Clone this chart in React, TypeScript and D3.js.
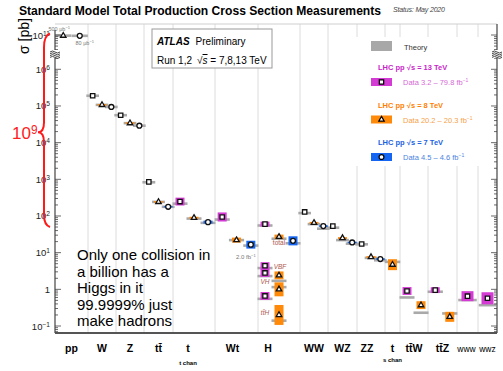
import * as d3 from "d3";

const W = 503;
const H = 371;
const L = 55;
const R = 497;
const T = 24;
const B = 333;

// categories along the x axis
const categories = ["pp", "W", "Z", "tt̄", "t", "Wt", "H", "WW", "WZ", "ZZ", "t", "tt̄W", "tt̄Z", "www", "wwz"];
const channelNotes = ["", "", "", "", "t chan", "", "", "", "", "", "s chan", "", "", "", ""];
// relative column widths (layout only)
const bandWeights = [33, 28, 28, 29, 42, 43, 42, 28, 29, 28, 15, 28, 29, 21, 19];
const labelShift = [0, 0, 0, 0, -6, -4, -11, 0, 0, -4, 0, 0, 0, -1, 0];

// [category, process, sigma (pb), relative uncertainty, theory (pb)]
const meas13: [number, string, number, number, number][] = [
  [1, "", 1.9e5, 0, 1.9e5],
  [2, "", 5.6e4, 0, 5.6e4],
  [3, "", 850, 0, 830],
  [4, "", 247, 0.28, 217],
  [5, "", 94, 0.33, 80],
  [6, "total", 60, 0.17, 55],
  [6, "VBF", 4.4, 0.25, 3.8],
  [6, "VH", 2.8, 0.28, 2.3],
  [6, "ttH", 0.66, 0.28, 0.55],
  [7, "", 129, 0, 120],
  [8, "", 53, 0, 48],
  [9, "", 17.2, 0, 16.9],
  [11, "", 0.9, 0.28, 0.6],
  [12, "", 0.95, 0.2, 0.86],
  [13, "", 0.65, 0.37, 0.51],
  [14, "", 0.57, 0.46, 0.37],
];

const meas8: [number, string, number, number, number][] = [
  [0, "", 9.6e10, 0, 9.6e10],
  [1, "", 1.07e5, 0.05, 1.07e5],
  [2, "", 3.4e4, 0.05, 3.4e4],
  [3, "", 242, 0.05, 242],
  [4, "", 89, 0.07, 85],
  [5, "", 22, 0.17, 22],
  [6, "total", 27, 0.15, 24],
  [6, "VBF", 2.4, 0.28, 1.7],
  [6, "VH", 1.0, 0.55, 1.15],
  [6, "ttH", 0.2, 0.87, 0.14],
  [7, "", 65, 0.06, 60],
  [8, "", 25, 0.06, 22],
  [9, "", 7.6, 0.06, 7.2],
  [10, "", 4.7, 0.41, 5.6],
  [11, "", 0.37, 0.28, 0.23],
  [12, "", 0.178, 0.37, 0.22],
];

const meas7: [number, string, number, number, number][] = [
  [0, "", 9.5e10, 0, 9.5e10],
  [1, "", 9.4e4, 0, 9.4e4],
  [2, "", 2.9e4, 0, 2.9e4],
  [3, "", 178, 0.04, 178],
  [4, "", 68, 0.1, 65],
  [5, "", 16.5, 0.28, 15.6],
  [6, "total", 21, 0.33, 18],
  [7, "", 53, 0.05, 45],
  [8, "", 19, 0.05, 17.6],
  [9, "", 6.7, 0.05, 6.2],
];

const legendLumi = ["3.2 – 79.8", "20.2 – 20.3", "4.5 – 4.6"];
const noteLines = ["Only one collision in", "a billion has a", "Higgs in it", "99.9999% just", "make hadrons"];

const font = "'Liberation Sans', Arial, Helvetica, sans-serif";

const series = [
  { e: 13, rows: meas13, fill: "#d43ad4", text: "#c81fc8", light: "#d66ad6", symbol: d3.symbolSquare, size: 19 },
  { e: 8, rows: meas8, fill: "#ff8a0a", text: "#ff8000", light: "#f5a24a", symbol: d3.symbolTriangle, size: 13 },
  { e: 7, rows: meas7, fill: "#1466f2", text: "#1a62e0", light: "#4a84e2", symbol: d3.symbolCircle, size: 19 },
];

function Pow({ base = "10", exp }: { base?: string; exp: string }) {
  return (
    <>
      {base}
      <tspan fontSize="0.7em" dy="-0.45em">{exp}</tspan>
    </>
  );
}

export default function App() {
  const xEdge = d3.scaleLinear().domain([0, d3.sum(bandWeights)]).range([L, R]);
  const cum = [0, ...Array.from(d3.cumsum(bandWeights))];
  const bandOf = (i: number) => [xEdge(cum[i]), xEdge(cum[i + 1])];

  const slots = categories.map((_, i) =>
    d3
      .scaleBand()
      .domain(series.filter((s) => s.rows.some((r) => r[0] === i)).map((s) => String(s.e)))
      .range(bandOf(i) as [number, number])
  );
  const xOf = (cat: number, e: number) => (slots[cat](String(e)) as number) + slots[cat].bandwidth() / 2;

  // broken log axis
  const yLow = d3.scaleLog().domain([0.1, 1e6]).range([326, 69.3]);
  const yHigh = d3.scaleLog().domain([1e10, 1e11]).range([71.7, 35]);
  const y = (v: number) => (v > 1e8 ? yHigh(v) : yLow(v));

  const isMajor = (v: number) => Math.abs(Math.log10(v) - Math.round(Math.log10(v))) < 1e-6;
  const lowTicks = yLow.copy().domain([yLow.invert(B - 1), yLow.invert(58)]).ticks();
  const highTicks = yHigh.copy().domain([yHigh.invert(50), yHigh.invert(T + 1)]).ticks();
  const allTicks = [...lowTicks.map((v) => ({ v, y: yLow(v) })), ...highTicks.map((v) => ({ v, y: yHigh(v) }))];
  const labelTicks = [0.1, 1, 10, 100, 1e3, 1e4, 1e5, 1e6, 1e11];

  // red brace
  const yTop = yHigh(1.1e11);
  const yBot = yLow(50);
  const yMid = (yTop + yBot) / 2 + 2;
  const brace = d3.path();
  brace.moveTo(50, yTop);
  brace.quadraticCurveTo(44, yTop + 2, 44, yTop + 14);
  brace.lineTo(44, yMid - 10);
  brace.quadraticCurveTo(44, yMid, 38, yMid);
  brace.quadraticCurveTo(44, yMid, 44, yMid + 10);
  brace.lineTo(44, yBot - 12);
  brace.quadraticCurveTo(44, yBot - 2, 50, yBot);

  const breakMarks = (x: number) =>
    [0, 1, 2, 3].map((k) => {
      const yy = 51 + k * 1.8;
      return (
        <path
          key={`${x}-${k}`}
          d={`M${x - 5},${yy + 1} q2.5,-2 5,0 t5,0`}
          fill="none"
          stroke="#333"
          strokeWidth={0.9}
        />
      );
    });

  const hLabelPos = (e: number, proc: string) => {
    const s = series.find((d) => d.e === e)!;
    const row = s.rows.find((r) => r[0] === 6 && r[1] === proc)!;
    return { x: xOf(6, e), y: y(row[2]) };
  };

  const legX = 371;

  return (
    <svg
      width={W}
      height={H}
      style={{ position: "fixed", left: 0, top: 0, background: "#fff", fontFamily: font }}
    >
      <rect width={W} height={H} fill="#fff" />

      {/* title */}
      <text x={19} y={15} fontSize={12} fontWeight="bold" textLength={362} lengthAdjust="spacingAndGlyphs">
        Standard Model Total Production Cross Section Measurements
      </text>
      <text x={393} y={12} fontSize={7} fontStyle="italic" fill="#444" textLength={52}>
        Status: May 2020
      </text>

      {/* grid */}
      {cum.slice(1, -1).map((c, i) => (
        <line key={i} x1={xEdge(c)} x2={xEdge(c)} y1={T} y2={B} stroke="#dcdcdc" strokeWidth={1} />
      ))}
      <line x1={L} x2={R} y1={T} y2={T} stroke="#cfcfcf" />

      {/* ATLAS box */}
      <rect x={152} y={29} width={120} height={39} fill="#fff" stroke="#999" />
      <text x={157} y={45} fontSize={10}>
        <tspan fontWeight="bold" fontStyle="italic">ATLAS</tspan>
        <tspan dx={6}>Preliminary</tspan>
      </text>
      <text x={157} y={64} fontSize={10}>
        Run 1,2
        <tspan dx={5}>√</tspan>
        <tspan fontStyle="italic" textDecoration="overline">s</tspan> = 7,8,13 TeV
      </text>

      {/* legend */}
      <rect x={350} y={37} width={142} height={129} fill="#fff" />
      <rect x={legX} y={41} width={21} height={10} fill="#a8a8a8" />
      <text x={404} y={50} fontSize={7.5} fill="#333">Theory</text>
      {series.map((s, i) => {
        const y0 = 70 + i * 37.5;
        const sym = d3.symbol(s.symbol, s.size)();
        return (
          <g key={s.e}>
            <text x={378} y={y0} fontSize={7.5} fontWeight="bold" fill={s.text}>
              LHC pp{"  "}√s = {s.e} TeV
            </text>
            <rect x={legX} y={y0 + 8} width={21} height={8} fill={s.fill} />
            <path d={sym as string} transform={`translate(${legX + 10.5},${y0 + 12})`} fill="#fff" stroke="#000" strokeWidth={1.2} />
            <text x={403} y={y0 + 15} fontSize={7.5} fill={s.light}>
              Data  {legendLumi[i]} fb<tspan fontSize={5} dy={-3}>−1</tspan>
            </text>
          </g>
        );
      })}

      {/* theory bars */}
      {series.map((s) =>
        s.rows.map((r, k) => {
          const cx = xOf(r[0], s.e);
          const w = slots[r[0]].bandwidth() * 0.5 + 8;
          return <rect key={`t${s.e}-${k}`} x={cx - w / 2} y={y(r[4]) - 1.3} width={w} height={2.6} fill="#a9a9a9" />;
        })
      )}

      {/* data uncertainty boxes */}
      {series.map((s) =>
        s.rows
          .filter((r) => r[3] > 0)
          .map((r, k) => {
            const cx = xOf(r[0], s.e);
            const bw = slots[r[0]].bandwidth() > 18 ? 12 : 9;
            const y1 = y(r[2] * (1 + r[3]));
            const y2 = y(r[2] / (1 + r[3]));
            return <rect key={`b${s.e}-${k}`} x={cx - bw / 2} y={y1} width={bw} height={y2 - y1} fill={s.fill} />;
          })
      )}

      {/* markers */}
      {series.map((s) =>
        s.rows.map((r, k) => (
          <path
            key={`m${s.e}-${k}`}
            d={d3.symbol(s.symbol, s.size)() as string}
            transform={`translate(${xOf(r[0], s.e)},${y(r[2])})`}
            fill="#fff"
            stroke="#111"
            strokeWidth={1.3}
          />
        ))
      )}

      {/* luminosity notes */}
      <text x={xOf(0, 8) - 4} y={y(9.6e10) - 5} fontSize={5.5} fill="#777" textAnchor="middle">
        500 μb<tspan fontSize={4} dy={-2}>−1</tspan>
      </text>
      <text x={xOf(0, 7) + 5} y={y(9.5e10) + 9} fontSize={5.5} fill="#777" textAnchor="middle">
        80 μb<tspan fontSize={4} dy={-2}>−1</tspan>
      </text>
      <text x={xOf(5, 7) - 5} y={y(16.5) + 14} fontSize={6} fill="#777" textAnchor="middle">
        2.0 fb<tspan fontSize={4} dy={-2}>−1</tspan>
      </text>

      {/* Higgs process labels */}
      {(() => {
        const tot = hLabelPos(8, "total");
        const vbf = hLabelPos(13, "VBF");
        const vh = hLabelPos(13, "VH");
        const tth = hLabelPos(8, "ttH");
        return (
          <g fontSize={6.5} fill="#b0554c" fontStyle="italic">
            <text x={tot.x} y={tot.y + 8} textAnchor="middle" fontStyle="normal">total</text>
            <text x={xOf(6, 8) + 1} y={vbf.y + 3} textAnchor="middle">VBF</text>
            <text x={vh.x} y={vh.y + 11} textAnchor="middle">VH</text>
            <text x={xOf(6, 13)} y={tth.y} textAnchor="middle">tt̄H</text>
          </g>
        );
      })()}

      {/* axes */}
      <line x1={L} x2={L} y1={T + 6} y2={B} stroke="#444" strokeWidth={1.2} />
      <line x1={R} x2={R} y1={T} y2={B} stroke="#444" strokeWidth={1.2} />
      <line x1={L} x2={R} y1={B} y2={B} stroke="#555" strokeWidth={2} />
      {allTicks.map((t, i) => {
        const len = isMajor(t.v) ? 6 : 3;
        return (
          <g key={i} stroke="#444" strokeWidth={0.8}>
            <line x1={L} x2={L + len} y1={t.y} y2={t.y} />
            <line x1={R} x2={R - len} y1={t.y} y2={t.y} />
          </g>
        );
      })}
      <rect x={L - 6} y={50} width={12} height={8} fill="#fff" />
      <rect x={R - 6} y={50} width={12} height={8} fill="#fff" />
      {breakMarks(L)}
      {breakMarks(R)}

      {/* y tick labels */}
      {labelTicks.map((v) => {
        const e = Math.round(Math.log10(v));
        return (
          <text key={v} x={50} y={y(v) + 3.5} fontSize={9.5} textAnchor="end" fill="#222">
            {e === 0 ? "1" : <Pow exp={e < 0 ? `−${-e}` : String(e)} />}
          </text>
        );
      })}
      <text transform="translate(29,36) rotate(-90)" fontSize={14} textAnchor="middle">
        σ [pb]
      </text>

      {/* x labels */}
      {categories.map((c, i) => {
        const [a, b] = bandOf(i);
        const cx = (a + b) / 2 + labelShift[i];
        const lower = c === "www" || c === "wwz";
        return (
          <g key={i}>
            <text x={cx} y={352} fontSize={lower ? 8.5 : 10.5} fontWeight={lower ? "normal" : "bold"} textAnchor="middle">
              {c}
            </text>
            {channelNotes[i] && (
              <text x={cx} y={i === 4 ? 365 : 362} fontSize={6} fontWeight="bold" textAnchor="middle">
                {channelNotes[i]}
              </text>
            )}
          </g>
        );
      })}

      {/* annotations */}
      <path d={brace.toString()} fill="none" stroke="#ff1a1a" strokeWidth={2} />
      <text x={12} y={yMid + 7} fontSize={17} fill="#ff2020">
        <Pow exp="9" />
      </text>
      {noteLines.map((line, i) => (
        <text key={i} x={77} y={260 + i * 16.5} fontSize={15} fill="#000">
          {line}
        </text>
      ))}
    </svg>
  );
}
